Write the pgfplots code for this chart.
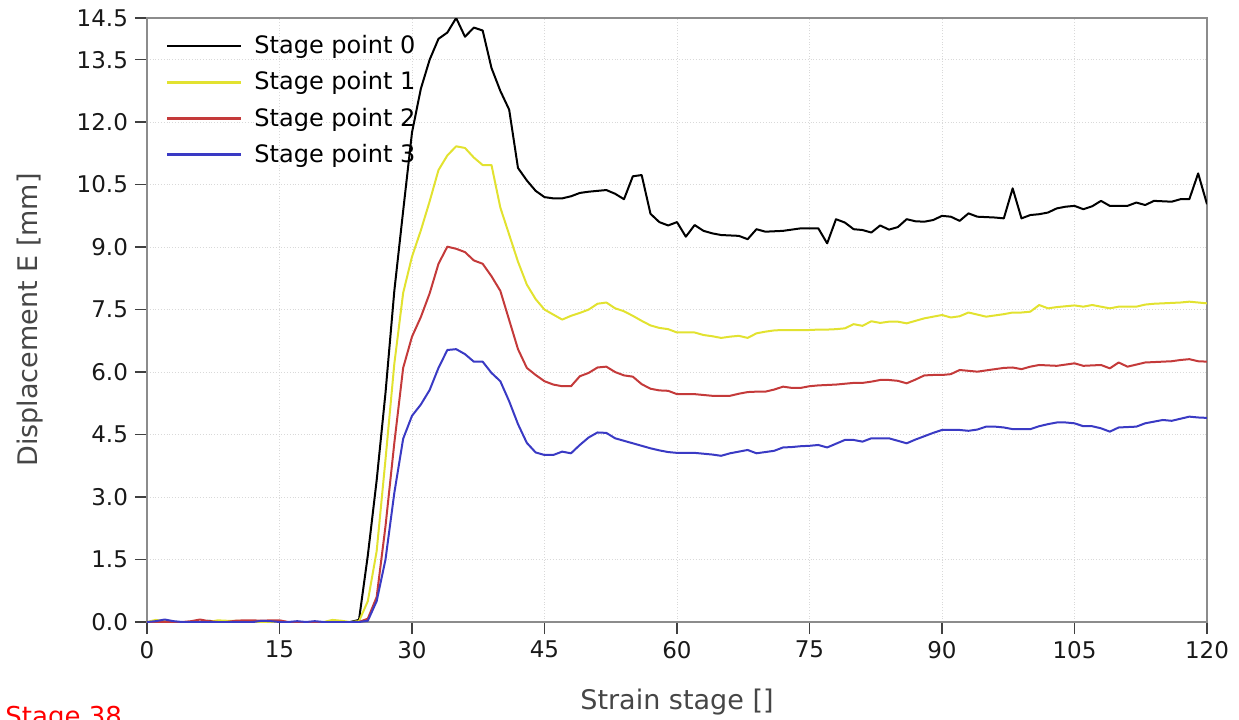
\documentclass[border=0pt]{standalone}
\usepackage{fontspec}
\setmainfont{DejaVu Sans}
\usepackage{pgfplots}
\usepackage{pgfplotstable}
\pgfplotsset{compat=1.18}

\definecolor{cyel}{RGB}{226,226,48}
\definecolor{cred}{RGB}{196,58,58}
\definecolor{cblu}{RGB}{58,58,196}
\definecolor{axgray}{RGB}{140,140,140}
\definecolor{lblgray}{RGB}{70,70,70}

% stage, point0, point1, point2, point3
\pgfplotstableread{
x b y r u
0 0 0 0 0
1 0 0.05 0 0.02
2 0 0.02 0 0.06
3 0 0 0 0.02
4 0 0 0 0
5 0 0 0.02 0
6 0 0 0.06 0
7 0.03 0 0.02 0
8 0 0.04 0 0
9 0 0.03 0 0
10 0 0.03 0.03 0
11 0 0.02 0.04 0
12 0 0 0.04 0
13 0 0 0.03 0.03
14 0 0 0.04 0.02
15 0 0 0.04 0
16 0 0 0 0
17 0 0 0 0.02
18 0 0 0 0
19 0 0 0 0.02
20 0 0 0 0
21 0 0.05 0 0
22 0 0.03 0 0
23 0 0 0 0
24 0.05 0.02 0 0
25 1.6 0.5 0.08 0.03
26 3.4 1.7 0.6 0.5
27 5.5 3.9 2.3 1.5
28 7.95 6.2 4.3 3.1
29 9.87 7.9 6.1 4.4
30 11.75 8.77 6.85 4.95
31 12.8 9.4 7.32 5.22
32 13.5 10.1 7.89 5.57
33 14.0 10.85 8.6 6.1
34 14.15 11.2 9.01 6.53
35 14.5 11.42 8.96 6.55
36 14.05 11.38 8.88 6.43
37 14.27 11.15 8.68 6.25
38 14.2 10.97 8.6 6.25
39 13.3 10.97 8.3 5.98
40 12.75 9.95 7.95 5.78
41 12.3 9.3 7.25 5.3
42 10.9 8.65 6.55 4.75
43 10.6 8.1 6.1 4.3
44 10.35 7.75 5.93 4.07
45 10.2 7.5 5.78 4.01
46 10.17 7.38 5.7 4.01
47 10.17 7.26 5.66 4.09
48 10.22 7.35 5.66 4.05
49 10.3 7.42 5.9 4.25
50 10.33 7.5 5.98 4.43
51 10.35 7.64 6.11 4.55
52 10.37 7.67 6.13 4.54
53 10.28 7.53 6.0 4.41
54 10.15 7.46 5.92 4.35
55 10.7 7.35 5.89 4.29
56 10.73 7.23 5.71 4.23
57 9.8 7.12 5.6 4.17
58 9.6 7.06 5.56 4.12
59 9.52 7.03 5.55 4.08
60 9.6 6.95 5.47 4.06
61 9.25 6.95 5.47 4.06
62 9.53 6.95 5.47 4.06
63 9.39 6.89 5.45 4.04
64 9.33 6.86 5.43 4.02
65 9.29 6.82 5.43 3.99
66 9.28 6.85 5.43 4.05
67 9.27 6.87 5.48 4.09
68 9.19 6.82 5.52 4.13
69 9.43 6.93 5.53 4.05
70 9.37 6.97 5.53 4.08
71 9.38 7.0 5.58 4.11
72 9.39 7.01 5.65 4.19
73 9.42 7.01 5.62 4.2
74 9.45 7.01 5.62 4.22
75 9.45 7.01 5.66 4.23
76 9.45 7.02 5.68 4.25
77 9.09 7.02 5.69 4.19
78 9.67 7.03 5.70 4.28
79 9.59 7.05 5.72 4.37
80 9.43 7.15 5.74 4.37
81 9.41 7.11 5.74 4.33
82 9.35 7.22 5.77 4.41
83 9.52 7.18 5.81 4.41
84 9.42 7.21 5.81 4.41
85 9.48 7.21 5.79 4.35
86 9.67 7.17 5.73 4.29
87 9.62 7.23 5.82 4.38
88 9.61 7.29 5.92 4.46
89 9.65 7.33 5.93 4.54
90 9.75 7.37 5.93 4.61
91 9.73 7.31 5.95 4.61
92 9.63 7.34 6.05 4.61
93 9.81 7.43 6.03 4.59
94 9.73 7.38 6.01 4.62
95 9.72 7.33 6.04 4.69
96 9.71 7.36 6.07 4.69
97 9.69 7.39 6.10 4.67
98 10.41 7.43 6.11 4.63
99 9.69 7.43 6.07 4.63
100 9.77 7.45 6.13 4.63
101 9.79 7.61 6.17 4.70
102 9.83 7.53 6.16 4.75
103 9.93 7.56 6.15 4.79
104 9.97 7.58 6.18 4.79
105 9.99 7.60 6.21 4.77
106 9.91 7.57 6.15 4.70
107 9.98 7.61 6.16 4.70
108 10.11 7.57 6.17 4.65
109 9.99 7.53 6.09 4.57
110 9.99 7.57 6.23 4.67
111 9.99 7.57 6.13 4.68
112 10.07 7.57 6.18 4.69
113 10.01 7.62 6.23 4.77
114 10.11 7.64 6.24 4.81
115 10.10 7.65 6.25 4.85
116 10.09 7.66 6.26 4.83
117 10.15 7.67 6.29 4.88
118 10.15 7.69 6.31 4.93
119 10.77 7.67 6.26 4.91
120 10.03 7.65 6.25 4.90
}\stages

\begin{document}
\begin{tikzpicture}
\begin{axis}[
  name=ax,
  at={(0,0)}, anchor=south west,
  scale only axis,
  width=530pt, height=302pt,
  xmin=0, xmax=120, ymin=0, ymax=14.5,
  xtick={0,15,...,120},
  ytick={0,1.5,3,4.5,6,7.5,9,10.5,12,13.5,14.5},
  xtick pos=bottom, ytick pos=left,
  yticklabel style={/pgf/number format/.cd, fixed, fixed zerofill, precision=1},
  /pgf/number format/assume math mode=true,
  tick align=outside,
  major tick length=6pt,
  tick style={black!75, line width=0.8pt},
  grid=major,
  grid style={densely dotted, gray!30},
  axis line style={axgray, line width=1pt},
  ticklabel style={font=\fontsize{11.5}{13}\selectfont, text=black!90},
  label style={font=\fontsize{13.5}{16}\selectfont, text=lblgray},
  xlabel={Strain stage []},
  ylabel={Displacement E [mm]},
  xlabel style={yshift=-8.5pt},
  ylabel style={yshift=10pt},
  legend cell align=left,
  legend style={at={(rel axis cs:0.012,0.985)}, anchor=north west, draw=none, fill=none,
    font=\fontsize{12}{14}\selectfont, row sep=3.5pt},
  legend image code/.code={\draw[#1, line width=1.3pt] (0pt,0pt) -- (37pt,0pt); \path (41pt,0pt);},
  every axis plot/.append style={line width=1pt, line join=round},
]
\addplot[black] table[x=x, y=b] {\stages};
\addlegendentry{Stage point 0}
\addplot[cyel] table[x=x, y=y] {\stages};
\addlegendentry{Stage point 1}
\addplot[cred] table[x=x, y=r] {\stages};
\addlegendentry{Stage point 2}
\addplot[cblu] table[x=x, y=u] {\stages};
\addlegendentry{Stage point 3}
\end{axis}
\node[anchor=base west, inner sep=0pt, text=red, font=\fontsize{13}{15}\selectfont] at (-71pt,-51.5pt) {Stage 38};
\pgfresetboundingbox
\path[use as bounding box] (-73.5pt,-48.5pt) rectangle (546pt,311pt);
\end{tikzpicture}
\end{document}
